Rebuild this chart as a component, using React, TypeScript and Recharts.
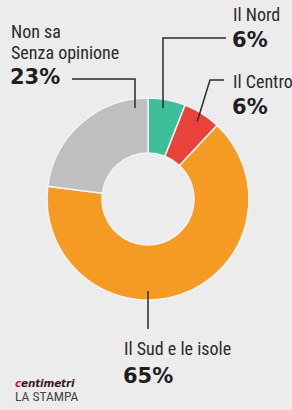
import React from "react";
import { PieChart, Pie, Cell } from "recharts";

// dati
const categories = ["Il Nord", "Il Centro", "Il Sud e le isole", "Non sa|Senza opinione"];
const values = [6, 6, 65, 23];
const colors = ["#3dbf99", "#e8433b", "#f59a23", "#bfbfbf"];

const BG = "#ececec";
const CX = 148;
const CY = 199;
const R_IN = 46;
const R_OUT = 101;
const R_LINE = 92; // dove finiscono le linee dentro l'anello

const REG = "'Liberation Sans Narrow', 'Roboto Condensed', 'DejaVu Sans Condensed', Roboto, sans-serif";
const BOLD = "'DejaVu Sans', sans-serif";

// posizione etichette + linee guida (per indice)
type Layout = {
  x: number;
  y: number; // baseline prima riga
  lh: number;
  pctY: number;
  path: [number, number][];
  end: { x: number; side: "top" | "bottom" } | "mid";
};
const layouts: Layout[] = [
  { x: 233, y: 21, lh: 18, pctY: 47, path: [[226, 38], [163, 38]], end: { x: 163, side: "top" } },
  { x: 233, y: 88, lh: 18, pctY: 114, path: [[224, 80], [210, 80]], end: "mid" },
  { x: 124, y: 355, lh: 18, pctY: 383, path: [[148, 329]], end: { x: 148, side: "bottom" } },
  { x: 11, y: 38, lh: 20.5, pctY: 84, path: [[72, 79], [135, 79]], end: { x: 135, side: "top" } },
];

const data = categories.map((c, i) => ({ name: c, value: values[i], color: colors[i] }));

const RADIAN = Math.PI / 180;

function renderLabel(props: any) {
  const { cx, cy, midAngle, index } = props;
  const l = layouts[index];
  const lines = categories[index].split("|");
  let ex: number, ey: number;
  if (l.end === "mid") {
    ex = cx + R_LINE * Math.cos(-midAngle * RADIAN);
    ey = cy + R_LINE * Math.sin(-midAngle * RADIAN);
  } else {
    const dx = l.end.x - cx;
    const dy = Math.sqrt(R_LINE * R_LINE - dx * dx);
    ex = l.end.x;
    ey = l.end.side === "top" ? cy - dy : cy + dy;
  }
  const pts = l.end !== "mid" && l.end.side === "bottom"
    ? [[ex, ey], ...l.path]
    : [...l.path, [ex, ey]];
  return (
    <g key={`lab-${index}`}>
      <polyline
        points={pts.map((p) => p.join(",")).join(" ")}
        fill="none"
        stroke="#2b2b2b"
        strokeWidth={1.5}
      />
      {lines.map((t, k) => (
        <text key={k} x={l.x} y={l.y + k * l.lh} fontFamily={REG} fontSize={18} fill="#2a2a2a">
          {t}
        </text>
      ))}
      <text x={l.x - 1} y={l.pctY} fontFamily={BOLD} fontWeight="bold" fontSize={21} fill="#1e1e1e">
        {values[index]}%
      </text>
    </g>
  );
}

export default function App() {
  return (
    <div style={{ position: "absolute", left: 0, top: 0, width: 292, height: 410, background: BG }}>
      <PieChart width={292} height={410} margin={{ top: 0, right: 0, bottom: 0, left: 0 }}>
        <Pie
          data={data}
          dataKey="value"
          nameKey="name"
          cx={CX}
          cy={CY}
          innerRadius={R_IN}
          outerRadius={R_OUT}
          startAngle={90}
          endAngle={-270}
          stroke="#f4f4f4"
          strokeWidth={1.5}
          label={renderLabel}
          labelLine={false}
          isAnimationActive={false}
        >
          {data.map((d, i) => (
            <Cell key={`c-${i}`} fill={d.color} />
          ))}
        </Pie>
      </PieChart>
      <div
        style={{
          position: "absolute",
          left: 15,
          top: 378,
          fontFamily: "'DejaVu Sans', sans-serif",
          fontStyle: "italic",
          fontWeight: "bold",
          fontSize: 10.5,
          letterSpacing: -0.2,
          color: "#3b1a24",
          lineHeight: "11px",
        }}
      >
        <span style={{ color: "#c0203a" }}>c</span>entimetri
      </div>
      <div
        style={{
          position: "absolute",
          left: 15,
          top: 389,
          fontFamily: REG,
          fontSize: 13.5,
          color: "#444",
          lineHeight: "14px",
        }}
      >
        LA STAMPA
      </div>
    </div>
  );
}
